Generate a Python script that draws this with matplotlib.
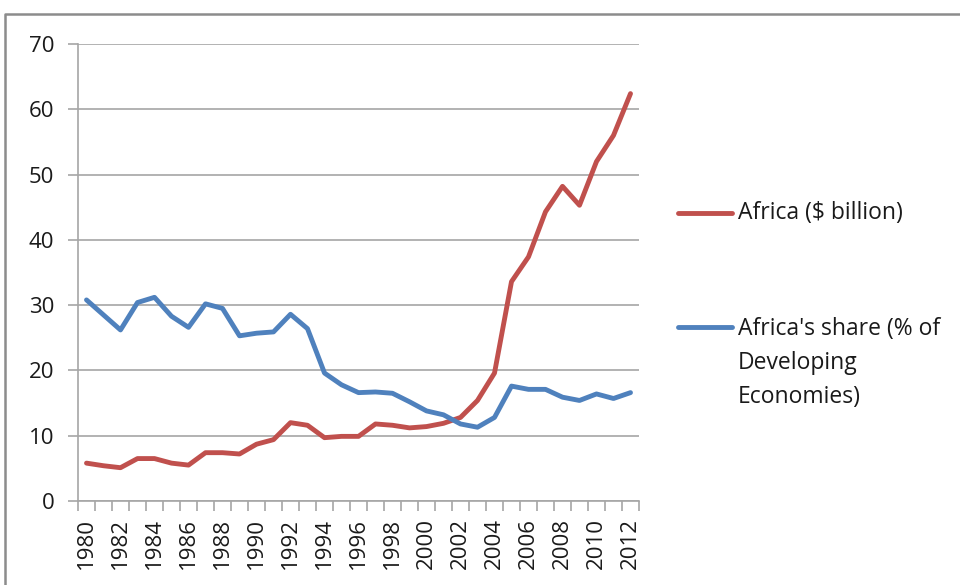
import matplotlib.pyplot as plt
from matplotlib.lines import Line2D
import numpy as np

plt.rcParams['font.family'] = ['Open Sans', 'DejaVu Sans']

years = list(range(1980, 2013))
africa_bn = [5.8, 5.4, 5.1, 6.5, 6.5, 5.8, 5.5, 7.4, 7.4, 7.2,
             8.7, 9.4, 12.0, 11.6, 9.7, 9.9, 9.9, 11.8, 11.6, 11.2,
             11.4, 11.9, 12.8, 15.4, 19.6, 33.6, 37.4, 44.3, 48.2, 45.3,
             52.0, 56.0, 62.4]
africa_share = [30.8, 28.5, 26.2, 30.4, 31.2, 28.3, 26.6, 30.2, 29.5, 25.3,
                25.7, 25.9, 28.6, 26.4, 19.6, 17.8, 16.6, 16.7, 16.5, 15.2,
                13.8, 13.2, 11.8, 11.3, 12.8, 17.6, 17.1, 17.1, 15.9, 15.4,
                16.4, 15.7, 16.6]
labels = ['Africa ($ billion)', "Africa's share (% of\nDeveloping\nEconomies)"]

red = '#C0504D'
blue = '#4F81BD'
grid_col = '#A6A6A6'
txt_col = '#1A1A1A'
lw = 3.5

fig = plt.figure(figsize=(9.6, 5.85), dpi=100)
ax = fig.add_axes([78/960, 1 - 501/585, (639 - 78)/960, (501 - 44)/585])

x = np.arange(len(years))
ax.plot(x, africa_bn, color=red, lw=lw, solid_capstyle='round', solid_joinstyle='round', zorder=3)
ax.plot(x, africa_share, color=blue, lw=lw, solid_capstyle='round', solid_joinstyle='round', zorder=3)

ax.set_xlim(-0.5, len(years) - 0.5)
ax.set_ylim(0, 70)
ax.set_yticks(range(0, 71, 10))
ax.yaxis.grid(True, color=grid_col, lw=1.2)
ax.set_axisbelow(True)

# category axis: ticks between categories, labels every other year
ax.set_xticks(np.arange(-0.5, len(years), 1.0))
ax.set_xticklabels([])
ax.set_xticks(x[::2], minor=True)
ax.set_xticklabels([str(y) for y in years[::2]], minor=True, rotation=90)
ax.tick_params(axis='x', which='minor', length=0, pad=12, labelsize=16, labelcolor=txt_col)
ax.tick_params(axis='x', which='major', length=7, color=grid_col, width=1.2)
ax.tick_params(axis='y', length=7, color=grid_col, width=1.2, labelsize=16, pad=10,
               labelcolor=txt_col)

for s in ['top', 'right']:
    ax.spines[s].set_visible(False)
for s in ['left', 'bottom']:
    ax.spines[s].set_color(grid_col)
    ax.spines[s].set_linewidth(1.2)

# legend drawn by hand, Excel style
fig.add_artist(Line2D([678/960, 732/960], [1 - 213/585, 1 - 213/585], color=red, lw=lw,
                      solid_capstyle='round'))
fig.text(738/960, 1 - 213/585, labels[0], fontsize=16.5, va='center', ha='left', color=txt_col)
fig.add_artist(Line2D([678/960, 732/960], [1 - 327/585, 1 - 327/585], color=blue, lw=lw,
                      solid_capstyle='round'))
fig.text(738/960, 1 - 317/585, labels[1], fontsize=16.5, va='top', ha='left', linespacing=1.55,
         color=txt_col)

# outer chart border
fig.add_artist(Line2D([5/960, 5/960, 1], [0, 1 - 14/585, 1 - 14/585], color='#8C8C8C', lw=1.8))

fig.savefig('out.png', dpi=100)
